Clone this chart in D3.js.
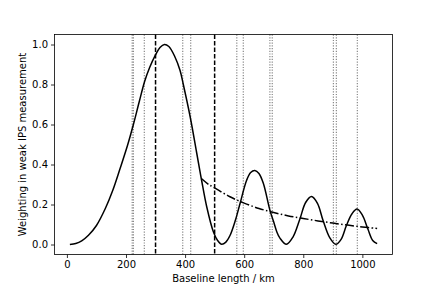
<!DOCTYPE html>
<html><head><meta charset="utf-8">
<script src="https://cdn.jsdelivr.net/npm/d3@7"></script>
<style>html,body{margin:0;padding:0;background:#fff;}svg{display:block;font-family:"DejaVu Sans",sans-serif;}</style>
</head><body>
<svg id="c" width="436" height="291"></svg>
<script>
// Baseline length (km) and weighting
const baselineKm = [10,30,50,73,100,130,155,180,205,225,245,263,280,299,315,330,345,365,383,394,417,439,456,473,496,510,524,538,552,570,586,608,622,636,650,665,687,700,710,721,743,765,788,808,828,848,867,890,910,928,946,965,982,1000,1019,1035,1050];
const weighting  = [0,0.005,0.018,0.046,0.095,0.18,0.27,0.38,0.495,0.60,0.715,0.815,0.885,0.946,0.985,1.0,0.99,0.94,0.87,0.80,0.64,0.46,0.32,0.19,0.062,0.02,0.001,0.012,0.045,0.12,0.205,0.32,0.36,0.37,0.355,0.305,0.172,0.112,0.065,0.032,0.001,0.037,0.125,0.21,0.24,0.206,0.12,0.033,0.001,0.026,0.095,0.154,0.177,0.147,0.076,0.02,0.004];
// dash-dot envelope
const envKm  = [455,480,500,550,600,650,700,750,800,850,900,950,1000,1050];
const envVal = [0.33,0.30,0.283,0.24,0.207,0.18,0.16,0.143,0.13,0.118,0.107,0.097,0.088,0.080];
// vertical marker lines
const dashedKm = [300,500];
const dottedKm = [221,225,262,392,419,575,597,687,695,902,912,983];
const xTicks = [0,200,400,600,800,1000];
const yTicks = [0,0.2,0.4,0.6,0.8,1.0];

const svg = d3.select("#c");
const L=54.5,R=392.5,T=34.5,B=254.5;
const x = d3.scaleLinear().domain([-42,1102]).range([L,R]);
const y = d3.scaleLinear().domain([-0.05,1.05]).range([B,T]);

// vertical lines
svg.append("g").selectAll("line").data(dottedKm).join("line")
  .attr("x1",d=>x(d)).attr("x2",d=>x(d)).attr("y1",T).attr("y2",B)
  .attr("stroke","#888").attr("stroke-width",1.2).attr("stroke-dasharray","1.2,1.5");
svg.append("g").selectAll("line").data(dashedKm).join("line")
  .attr("x1",d=>x(d)).attr("x2",d=>x(d)).attr("y1",T).attr("y2",B)
  .attr("stroke","#000").attr("stroke-width",1.5).attr("stroke-dasharray","4.5,2");

// curves
const line = d3.line().x(d=>x(d[0])).y(d=>y(d[1])).curve(d3.curveCatmullRom.alpha(0.5));
svg.append("path").attr("d",line(baselineKm.map((k,i)=>[k,weighting[i]])))
  .attr("fill","none").attr("stroke","#000").attr("stroke-width",1.5);
svg.append("path").attr("d",line(envKm.map((k,i)=>[k,envVal[i]])))
  .attr("fill","none").attr("stroke","#000").attr("stroke-width",1.5)
  .attr("stroke-dasharray","9,2.4,1.5,2.4");

// axes
const xa = svg.append("g").attr("transform",`translate(0,${B})`)
  .call(d3.axisBottom(x).tickValues(xTicks).tickSize(3.5).tickPadding(3).tickFormat(d3.format("d")));
const ya = svg.append("g").attr("transform",`translate(${L},0)`)
  .call(d3.axisLeft(y).tickValues(yTicks).tickSize(3.5).tickPadding(3).tickFormat(d3.format(".1f")));
[xa,ya].forEach(a=>{a.select(".domain").remove();
  a.selectAll("text").attr("font-size",10).attr("font-family","DejaVu Sans").attr("fill","#000");
  a.selectAll("line").attr("stroke","#000").attr("stroke-width",0.8);});

svg.append("rect").attr("x",L).attr("y",T).attr("width",R-L).attr("height",B-T)
  .attr("fill","none").attr("stroke","#000").attr("stroke-width",0.8);

svg.append("text").attr("x",(L+R)/2).attr("y",282).attr("text-anchor","middle")
  .attr("font-size",10).text("Baseline length / km");
svg.append("text").attr("transform",`translate(25.5,${(T+B)/2}) rotate(-90)`).attr("text-anchor","middle")
  .attr("font-size",10).text("Weighting in weak IPS measurement");
</script>
</body></html>
